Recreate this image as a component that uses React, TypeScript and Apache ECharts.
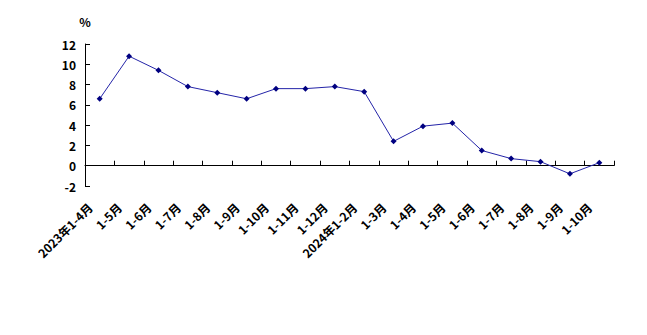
import React, { useEffect, useRef } from "react";
import * as echarts from "echarts";

const categories = [
  "2023年1-4月", "1-5月", "1-6月", "1-7月", "1-8月", "1-9月", "1-10月", "1-11月", "1-12月",
  "2024年1-2月", "1-3月", "1-4月", "1-5月", "1-6月", "1-7月", "1-8月", "1-9月", "1-10月",
];
const values = [6.6, 10.8, 9.4, 7.8, 7.2, 6.6, 7.6, 7.6, 7.8, 7.3, 2.4, 3.9, 4.2, 1.5, 0.7, 0.4, -0.8, 0.3];
const yMin = -2;
const yMax = 12;
const yInterval = 2;
const unit = "%";

const FONT = '"Noto Sans CJK SC", "DejaVu Sans", sans-serif';

export default function App() {
  const ref = useRef<HTMLDivElement>(null);
  useEffect(() => {
    if (!ref.current) return;
    const chart = echarts.init(ref.current, null, { renderer: "svg" });
    chart.setOption({
      animation: false,
      backgroundColor: "#ffffff",
      grid: { left: 85, right: 33, top: 44, bottom: 149, containLabel: false },
      xAxis: [
        {
          type: "category",
          data: categories,
          position: "bottom",
          boundaryGap: true,
          axisLine: { show: true, onZero: true, lineStyle: { color: "#000", width: 1 } },
          axisTick: { show: true, inside: true, length: 5, interval: 0, lineStyle: { color: "#000" } },
          axisLabel: { show: false },
          splitLine: { show: false },
        },
        {
          type: "category",
          data: categories,
          position: "bottom",
          boundaryGap: true,
          axisLine: { show: false, onZero: false },
          axisTick: { show: false },
          axisLabel: {
            show: true,
            interval: 0,
            rotate: 45,
            margin: 9,
            padding: [0, 14, 0, 0],
            color: "#000",
            fontFamily: FONT,
            fontWeight: "bold",
            fontSize: 12,
          },
          splitLine: { show: false },
        },
      ],
      yAxis: {
        type: "value",
        min: yMin,
        max: yMax,
        interval: yInterval,
        name: unit,
        nameLocation: "end",
        nameGap: 17,
        nameTextStyle: { color: "#000", fontFamily: FONT, fontWeight: "bold", fontSize: 12, align: "center" },
        axisLine: { show: true, lineStyle: { color: "#000", width: 1 } },
        axisTick: { show: true, inside: true, length: 5, lineStyle: { color: "#000" } },
        axisLabel: {
          color: "#000",
          fontFamily: FONT,
          fontWeight: "bold",
          fontSize: 12,
          margin: 9,
        },
        splitLine: { show: false },
      },
      series: [
        {
          type: "line",
          xAxisIndex: 0,
          data: values,
          symbol: "diamond",
          symbolSize: 6,
          showSymbol: true,
          lineStyle: { color: "#2424a8", width: 1 },
          itemStyle: { color: "#000080", borderWidth: 0 },
        },
      ],
    });
    return () => chart.dispose();
  }, []);
  return (
    <div
      ref={ref}
      style={{ position: "absolute", left: 0, top: 0, width: 647, height: 335, background: "#fff" }}
    />
  );
}
